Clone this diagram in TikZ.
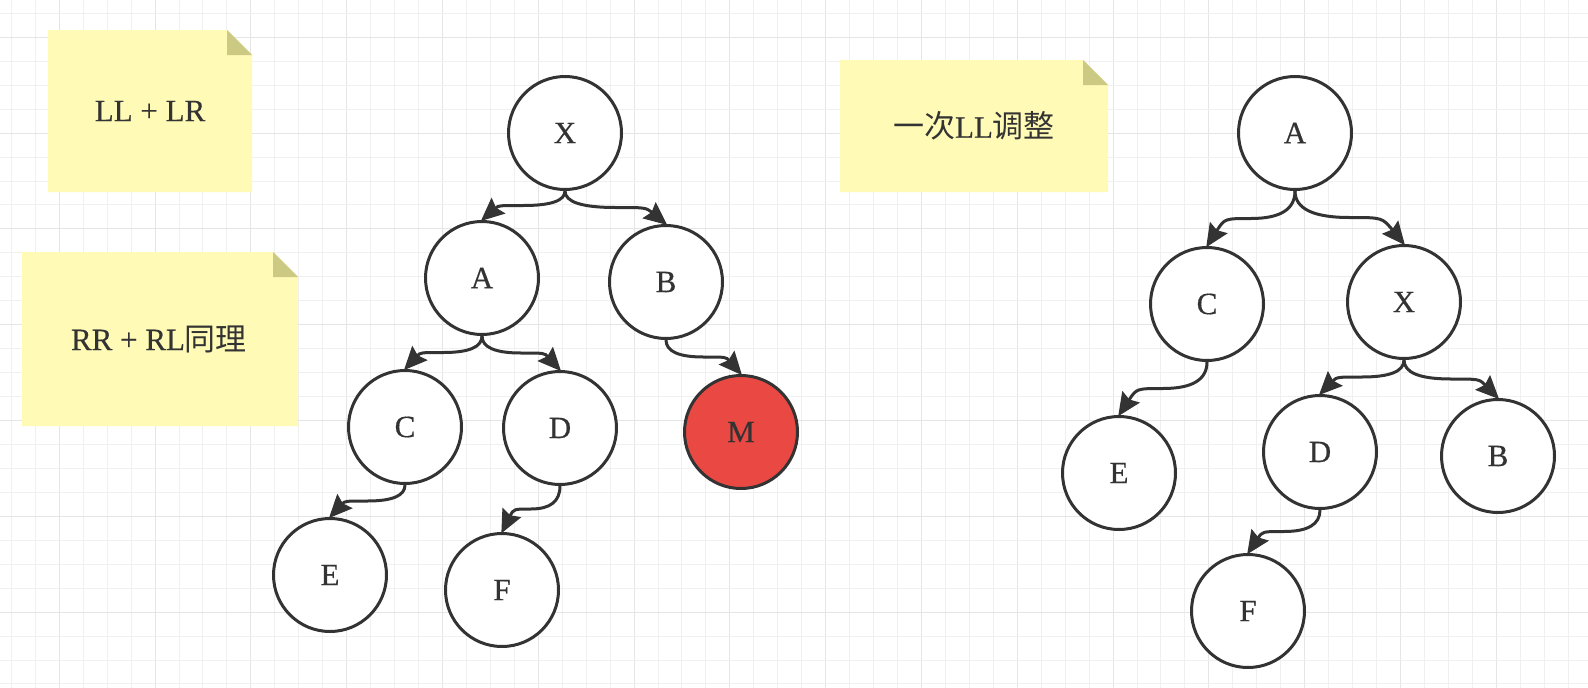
\documentclass[tikz,border=0pt]{standalone}
\usepackage{fontspec}
\setmainfont{Liberation Serif}
\newfontfamily\tfont{Liberation Serif}[FakeBold=0.5]
\newfontfamily\cjk{Noto Sans CJK SC}
\usetikzlibrary{calc}
\definecolor{ink}{HTML}{333333}
\definecolor{gridminor}{HTML}{F0F0F0}
\definecolor{gridmajor}{HTML}{E5E5E5}
\definecolor{notebg}{HTML}{FFFBB6}
\definecolor{notefold}{HTML}{CCCA82}
\definecolor{mred}{HTML}{EA4943}
\tikzset{
  tnode/.style={circle, draw=ink, line width=3pt, fill=white, minimum size=113pt, inner sep=0pt, text=ink, font=\tfont\fontsize{31}{36}\selectfont},
  notetext/.style={text=ink, font=\tfont\fontsize{31}{36}\selectfont, inner sep=0pt},
  edge/.style={draw=ink, line width=3pt},
  ahead/.style={fill=ink, draw=ink, line width=1.2pt, line join=miter},
}
\newcommand\tedge[2]{%
  \coordinate (s) at (#1.south);
  \coordinate (t) at (#2.north);
  \coordinate (m) at ($(s)!0.5!(t)$);
  \coordinate (d) at ($(t|-m)!0.2!(s|-m)$);
  \coordinate (b) at ($(t)!21pt!(d)$);
  \coordinate (k) at ($(t)!18pt!(d)$);
  \draw[edge] (s) .. controls ($(s)!2/3!(s|-m)$) and ($(m)!2/3!(s|-m)$) .. (m)
     .. controls (d) .. (k);
  \filldraw[ahead] (t) -- ($(b)!9.5pt!90:(t)$) -- (k) -- ($(b)!9.5pt!-90:(t)$) -- cycle;}
\newcommand\note[4]{% x0 y0 x1 y1
  \fill[notebg] (#1,#2) -- ({#3-25},#2) -- (#3,{#2+25}) -- (#3,#4) -- (#1,#4) -- cycle;
  \fill[notefold] ({#3-25},#2) -- ({#3-25},{#2+25}) -- (#3,{#2+25}) -- cycle;}
\begin{document}
\begin{tikzpicture}[x=1pt,y=-1pt]
\useasboundingbox (0,0) rectangle (1588,688);
\fill[white] (0,0) rectangle (1588,688);
% grid
\foreach \i in {0,...,66}{
  \pgfmathtruncatemacro\r{mod(\i,4)}
  \pgfmathsetmacro\gx{floor(11.4+23.95*\i)+0.5}
  \ifnum\r=2
    \draw[gridmajor, line width=1pt] (\gx,0) -- ++(0,688);
  \else
    \draw[gridminor, line width=1pt] (\gx,0) -- ++(0,688);
  \fi}
\foreach \j in {0,...,28}{
  \pgfmathtruncatemacro\r{mod(\j,4)}
  \pgfmathsetmacro\gy{floor(13.4+23.95*\j)+0.5}
  \ifnum\r=1
    \draw[gridmajor, line width=1pt] (0,\gy) -- ++(1588,0);
  \else
    \draw[gridminor, line width=1pt] (0,\gy) -- ++(1588,0);
  \fi}
% notes
\note{48}{30}{252}{192}
\node[notetext] (n1) at (150,111) {LL + LR};
\note{22}{252}{298}{426}
\node[notetext] (n2) at (159,339) {RR + RL{\cjk 同理}};
\note{840}{60}{1108}{192}
\node[notetext] (n3) at (974,126) {{\cjk 一次}LL{\cjk 调整}};
% left tree
\node[tnode] (lX) at (565,133) {X};
\node[tnode] (lA) at (482,278) {A};
\node[tnode] (lB) at (666,282) {B};
\node[tnode] (lC) at (405,427) {C};
\node[tnode] (lD) at (560,428) {D};
\node[tnode, fill=mred] (lM) at (741,432) {M};
\node[tnode] (lE) at (330,575) {E};
\node[tnode] (lF) at (502,590) {F};
\tedge{lX}{lA}
\tedge{lX}{lB}
\tedge{lA}{lC}
\tedge{lA}{lD}
\tedge{lB}{lM}
\tedge{lC}{lE}
\tedge{lD}{lF}
% right tree
\node[tnode] (rA) at (1295,133) {A};
\node[tnode] (rC) at (1207,304) {C};
\node[tnode] (rX) at (1404,302) {X};
\node[tnode] (rE) at (1119,473) {E};
\node[tnode] (rD) at (1320,452) {D};
\node[tnode] (rB) at (1498,456) {B};
\node[tnode] (rF) at (1248,611) {F};
\tedge{rA}{rC}
\tedge{rA}{rX}
\tedge{rC}{rE}
\tedge{rX}{rD}
\tedge{rX}{rB}
\tedge{rD}{rF}
\end{tikzpicture}
\end{document}
